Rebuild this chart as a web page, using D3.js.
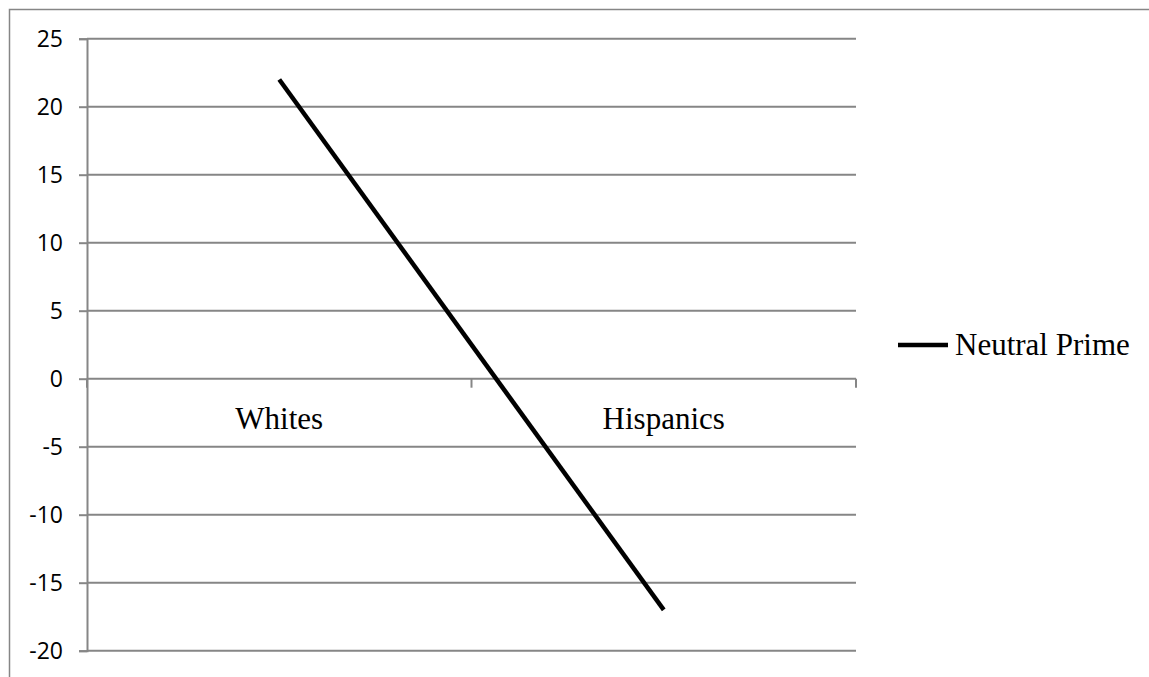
<!DOCTYPE html>
<html lang="en">
<head>
  <meta charset="utf-8">
  <title>Neutral Prime</title>
  <script type="text/javascript" src="https://d3js.org/d3.v7.min.js"></script>
  <style type="text/css">
    body { margin: 0; background: #fff; }
    .tick-label { font-family: "Open Sans", sans-serif; font-size: 23px; fill: #000; }
    .cat-label { font-family: "Liberation Serif", "Times New Roman", serif; font-size: 31px; fill: #000; }
  </style>
</head>
<body>
  <div id="container"></div>
  <script type="text/javascript">
    var categories = ['Whites', 'Hispanics'];
    var neutralPrime = [22, -17];
    var seriesName = 'Neutral Prime';
    var yTicks = [25, 20, 15, 10, 5, 0, -5, -10, -15, -20];

    var width = 1149, height = 677;
    var gridColor = '#868686';

    var svg = d3.select('#container').append('svg')
        .attr('width', width)
        .attr('height', height);

    // outer chart border (runs off the right and bottom)
    svg.append('rect')
        .attr('x', 9.5).attr('y', 9.5)
        .attr('width', width + 10).attr('height', height + 10)
        .attr('fill', 'none')
        .attr('stroke', gridColor)
        .attr('stroke-width', 1.5);

    var x = d3.scaleBand()
        .domain(categories)
        .range([87, 856]);
    var y = d3.scaleLinear()
        .domain([-20, 25])
        .range([650.7, 38.7]);

    // left axis with ticks; plain hyphen for negatives
    var yAxis = d3.axisLeft(y)
        .tickValues(yTicks)
        .tickSize(8)
        .tickPadding(16)
        .tickFormat(function(d) { return String(d); });
    var gy = svg.append('g')
        .attr('transform', 'translate(87,0)')
        .call(yAxis);
    gy.select('.domain').attr('stroke', gridColor).attr('stroke-width', 2);
    gy.selectAll('.tick line').attr('stroke', gridColor).attr('stroke-width', 2);
    gy.selectAll('.tick text').attr('class', 'tick-label').attr('fill', '#000')
        .attr('dy', '0.35em');

    // horizontal gridlines
    svg.append('g')
        .selectAll('line')
        .data(yTicks.filter(function(d) { return d !== 0; }))
        .enter().append('line')
        .attr('x1', 87).attr('x2', 856)
        .attr('y1', function(d) { return y(d); })
        .attr('y2', function(d) { return y(d); })
        .attr('stroke', gridColor)
        .attr('stroke-width', 2);

    // category axis sits on zero
    var edges = [x.range()[0]].concat(categories.map(function(c) { return x(c) + x.bandwidth(); }));
    var gx = svg.append('g');
    gx.append('line')
        .attr('x1', 87).attr('x2', 856)
        .attr('y1', y(0)).attr('y2', y(0))
        .attr('stroke', gridColor).attr('stroke-width', 2);
    gx.selectAll('.xtick')
        .data(edges)
        .enter().append('line')
        .attr('class', 'xtick')
        .attr('x1', function(d) { return d; })
        .attr('x2', function(d) { return d; })
        .attr('y1', y(0)).attr('y2', y(0) + 9)
        .attr('stroke', gridColor).attr('stroke-width', 2);
    gx.selectAll('.cat-label')
        .data(categories)
        .enter().append('text')
        .attr('class', 'cat-label')
        .attr('x', function(d) { return x(d) + x.bandwidth() / 2; })
        .attr('y', y(0) + 50)
        .attr('text-anchor', 'middle')
        .text(function(d) { return d; });

    // the series
    var line = d3.line()
        .x(function(d, i) { return x(categories[i]) + x.bandwidth() / 2; })
        .y(function(d) { return y(d); });
    svg.append('path')
        .datum(neutralPrime)
        .attr('d', line)
        .attr('fill', 'none')
        .attr('stroke', '#000')
        .attr('stroke-width', 4.5);

    // legend
    var legend = svg.append('g').attr('transform', 'translate(898,345)');
    legend.append('line')
        .attr('x1', 0).attr('x2', 50)
        .attr('stroke', '#000').attr('stroke-width', 4.5);
    legend.append('text')
        .attr('class', 'cat-label')
        .attr('x', 57).attr('y', 10)
        .text(seriesName);
  </script>
</body>
</html>
